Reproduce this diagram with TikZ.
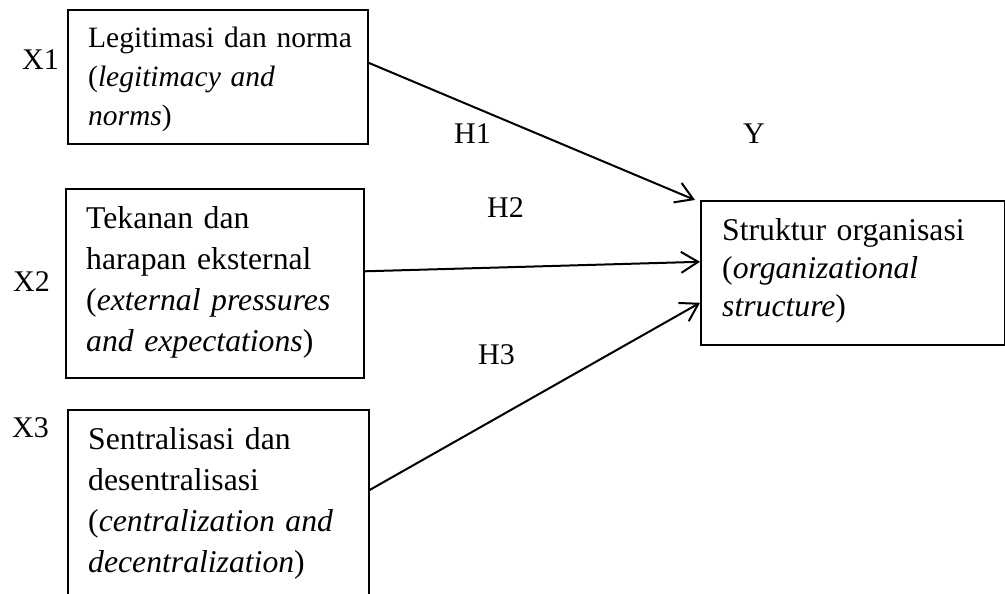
\documentclass[tikz,border=0pt]{standalone}
\usepackage{fontspec}
\setmainfont{Liberation Serif}
\usetikzlibrary{arrows.meta}

\tikzset{
  kotak/.style={draw,line width=1.6pt,anchor=north west,inner sep=0pt},
  isi/.style={anchor=base west,inner sep=0pt,text width=300pt,align=left,
    font=\fontsize{31.7}{41.3}\selectfont},
  lbl/.style={anchor=base west,inner sep=0pt},
  panah/.style={line width=2pt,-{Straight Barb[length=17pt,width=21pt,line width=2pt]}}
}

\begin{document}
\begin{tikzpicture}[x=1pt,y=-1pt,font=\fontsize{30}{36}\selectfont]

\clip (0,0) rectangle (1005,594);

%Variabel bebas
\node[kotak,minimum width=300pt,minimum height=134pt] (x1) at (67,9) {};
\node[kotak,minimum width=298pt,minimum height=189pt] (x2) at (65,188) {};
\node[kotak,minimum width=301pt,minimum height=210pt] (x3) at (67,409) {};

\node[isi,font=\fontsize{29.5}{39}\selectfont] (x1t) at (88,48) {Legitimasi dan norma\\(\textit{legitimacy and}\\\textit{norms})};
\node[isi] (x2t) at (86,228) {Tekanan dan\\harapan eksternal\\(\textit{external pressures}\\\textit{and expectations})};
\node[isi] (x3t) at (88,449) {Sentralisasi dan\\desentralisasi\\(\textit{centralization and}\\\textit{decentralization})};

\node[lbl] (lx1) at (22,70) {X1};
\node[lbl] (lx2) at (13,291) {X2};
\node[lbl] (lx3) at (12,437) {X3};

%Variabel terikat
\node[kotak,minimum width=304pt,minimum height=144pt] (y) at (700,200) {};
\node[isi,font=\fontsize{31.7}{38}\selectfont] (yt) at (722,240) {Struktur organisasi\\(\textit{organizational}\\\textit{structure})};
\node[lbl] (ly) at (743,143) {Y};

%Hipotesis
\draw[panah] ([yshift=14pt]x1.east) -- ([xshift=-5pt]y.north west);
\draw[panah] ([yshift=12pt]x2.east) -- ([yshift=11pt]y.west);
\draw[panah] ([yshift=-81pt]x3.north east) -- ([yshift=-30pt]y.west);

\node[lbl] (h1) at (454,143) {H1};
\node[lbl] (h2) at (487,217) {H2};
\node[lbl] (h3) at (478,364) {H3};

\end{tikzpicture}
\end{document}
